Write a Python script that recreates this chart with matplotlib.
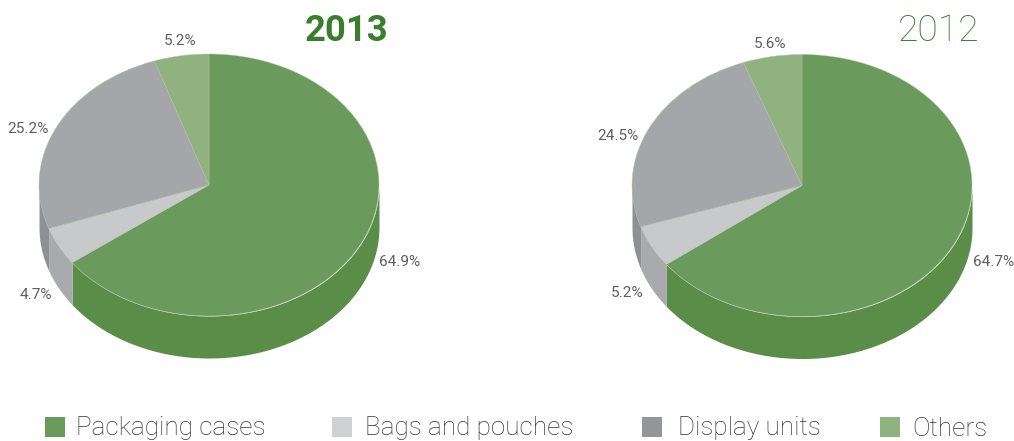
#!/usr/bin/env python3
import numpy as np
import matplotlib.pyplot as plt
from matplotlib.patches import Rectangle

W, H = 1014, 441
plt.rcParams['font.family'] = ['Roboto', 'DejaVu Sans']
plt.rcParams['font.weight'] = 'light'

categories = ['Packaging cases', 'Bags and pouches', 'Display units', 'Others']
values_2013 = [64.9, 4.7, 25.2, 5.2]
values_2012 = [64.7, 5.2, 24.5, 5.6]

top_cols = ['#6b9b5c', '#c8c9cb', '#a5a6a9', '#8fb27f']
side_cols = ['#5a8d47', '#a9aaae', '#8f9094', '#7fa06f']
legend_cols = ['#6b9b5c', '#d0d1d3', '#939598', '#8fb27f']
text_col = '#333335'

fig = plt.figure(figsize=(W / 100, H / 100), dpi=100)

RX, RY, DEPTH = 170, 131, 42


def disc(cx, cy, vals):
    # axes covers the ellipse and the wall under it
    ax = fig.add_axes([(cx - RX) / W, (H - cy - RY - DEPTH) / H, 2 * RX / W, (2 * RY + DEPTH) / H])
    ax.pie(vals, colors=top_cols, startangle=90, counterclock=False, radius=1,
           wedgeprops={'linewidth': 0.3, 'edgecolor': '#a9c49d'}, frame=False)
    ax.set_aspect('auto')
    ax.set_xlim(-1, 1)
    ax.set_ylim(-1 - DEPTH / RY, 1)
    ax.axis('off')
    d = DEPTH / RY
    # clockwise angle from 12 o'clock, only the front half has a visible wall
    edges = np.cumsum([0] + vals) / sum(vals) * 2 * np.pi
    for i in range(len(vals)):
        a, b = max(edges[i], np.pi / 2), min(edges[i + 1], 3 * np.pi / 2)
        if a >= b:
            continue
        t = np.linspace(a, b, 120)
        ax.fill_between(np.sin(t), np.cos(t), np.cos(t) - d, color=side_cols[i], lw=0, zorder=0)
    return ax


disc(209, 185, values_2013)
disc(802, 185.5, values_2012)


def px_text(x, y, s, size, **kw):
    kw.setdefault('color', text_col)
    fig.text(x / W, 1 - y / H, s, fontsize=size, va='center', **kw)


px_text(346.5, 31, '2013', 26.3, color='#3a7d2f', fontweight='bold', ha='center')
px_text(938.5, 31, '2012', 26.8, color='#3a7d2f', ha='center')

# slice labels, same order as the values
pos_2013 = [(379, 262), (20, 295), (7, 129), (164, 41)]
pos_2012 = [(973, 262), (611, 293), (597, 136), (754, 44)]
for vals, pos in [(values_2013, pos_2013), (values_2012, pos_2012)]:
    for v, (x, y) in zip(vals, pos):
        px_text(x, y, f'{v}%', 11, color='#5d5d5f', fontweight='normal')

# legend along the bottom
legend_x = [45, 332, 642, 880]
legend_tx = [76, 365, 678, 912]
for name, col, x, tx in zip(categories, legend_cols, legend_x, legend_tx):
    fig.add_artist(Rectangle((x / W, 1 - 437 / H), 20 / W, 20 / H, color=col, lw=0, transform=fig.transFigure))
    px_text(tx, 428.5, name, 18.8)

fig.savefig('out.png', dpi=100)
